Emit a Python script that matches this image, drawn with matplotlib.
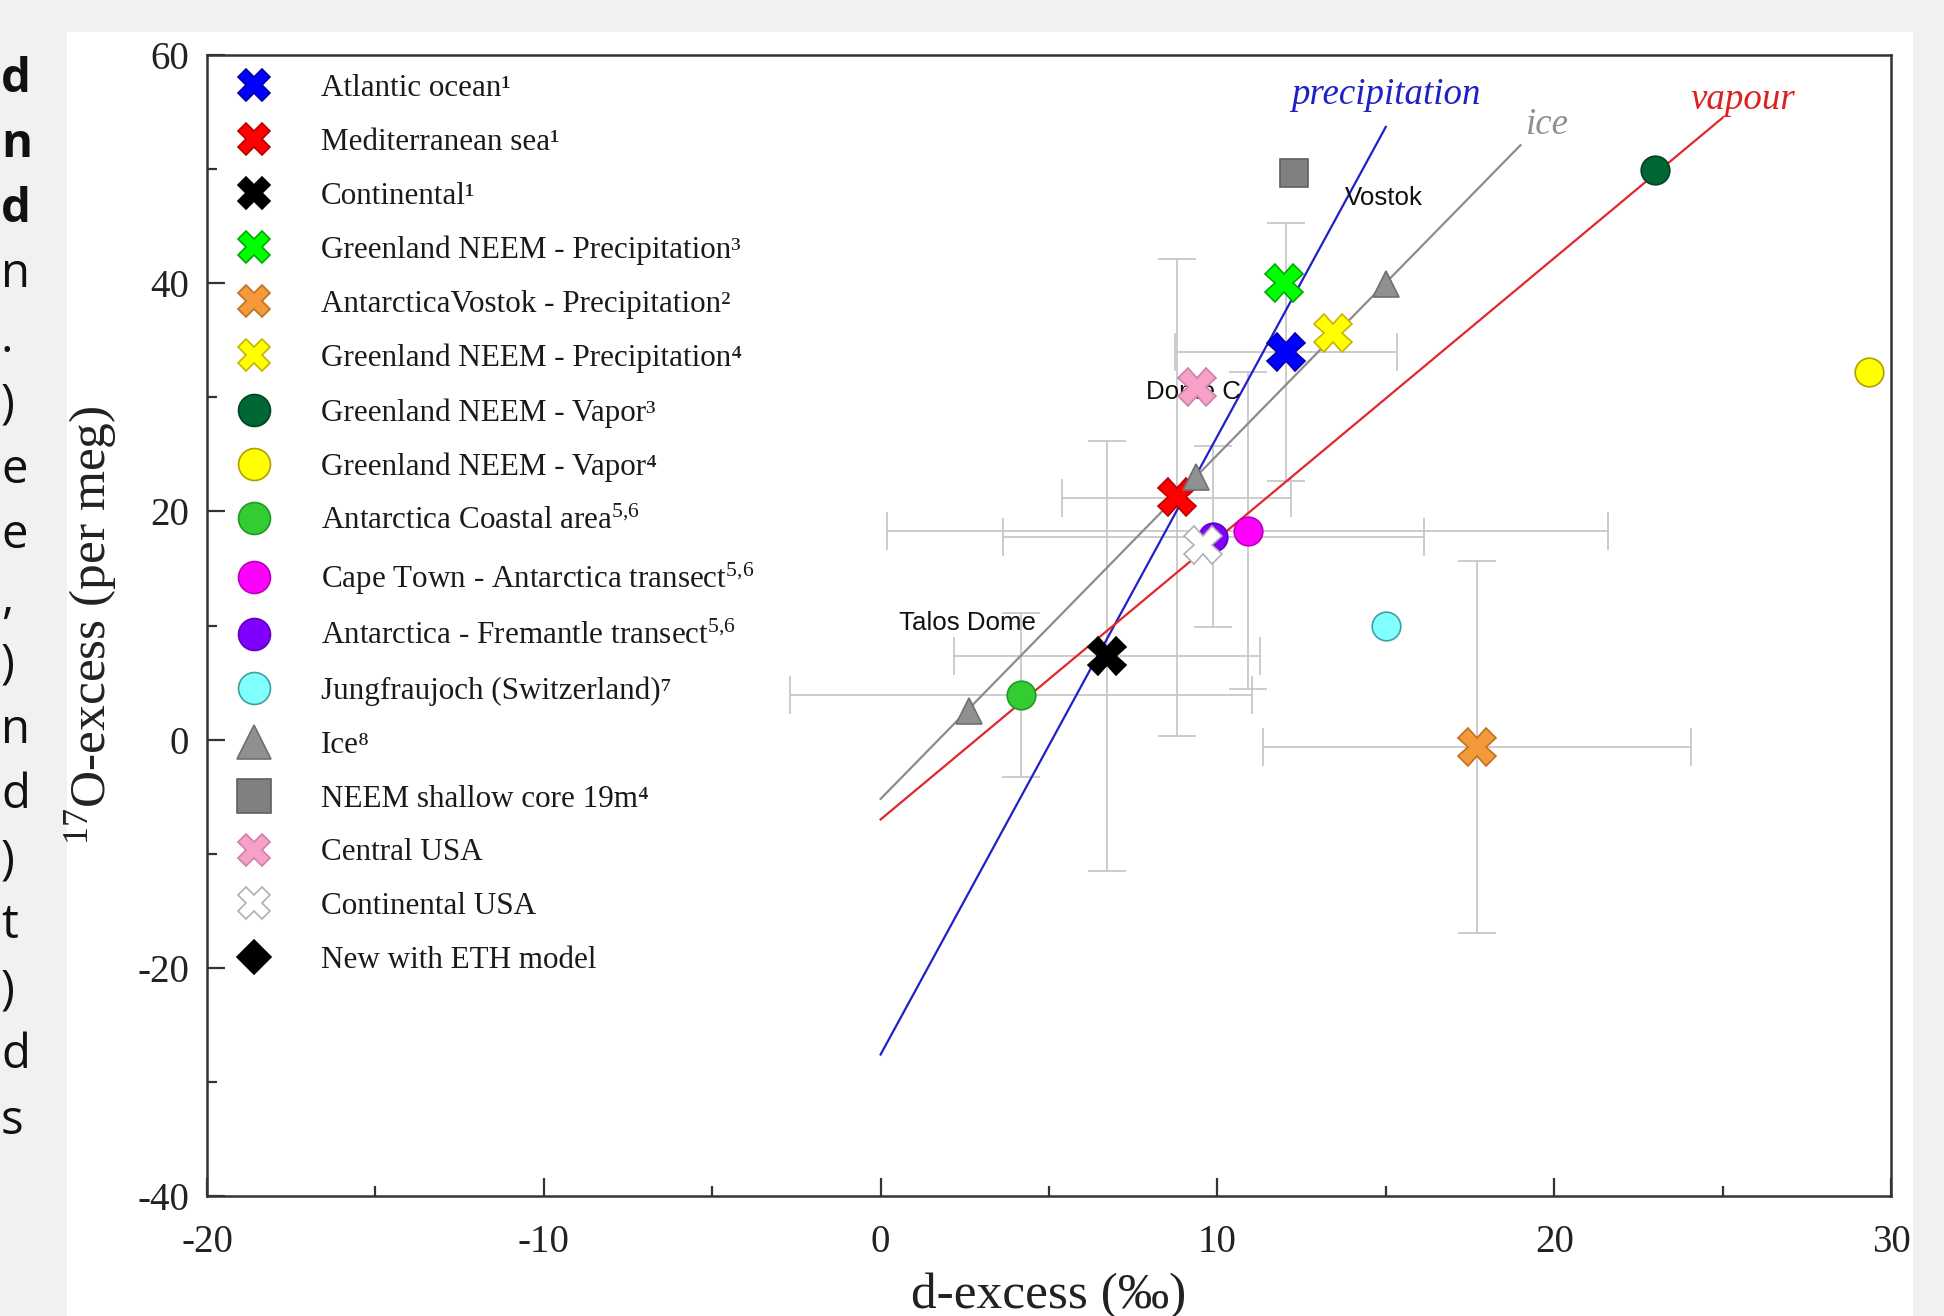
import matplotlib
matplotlib.use("Agg")
import matplotlib.pyplot as plt
from matplotlib.lines import Line2D
from matplotlib.patches import Rectangle
from matplotlib.ticker import MultipleLocator

plt.rcParams['font.family'] = ['Liberation Serif', 'DejaVu Serif']
plt.rcParams['mathtext.fontset'] = 'custom'
plt.rcParams['mathtext.rm'] = 'Liberation Serif'
plt.rcParams['mathtext.it'] = 'Liberation Serif:italic'
plt.rcParams['mathtext.default'] = 'regular'
plt.rcParams['axes.unicode_minus'] = False

# ---------------- data ----------------
series_labels = [
    "Atlantic ocean\u00b9",
    "Mediterranean sea\u00b9",
    "Continental\u00b9",
    "Greenland NEEM - Precipitation\u00b3",
    "AntarcticaVostok - Precipitation\u00b2",
    "Greenland NEEM - Precipitation\u2074",
    "Greenland NEEM - Vapor\u00b3",
    "Greenland NEEM - Vapor\u2074",
    "Antarctica Coastal area$^{5{,}6}$",
    "Cape Town - Antarctica transect$^{5{,}6}$",
    "Antarctica - Fremantle transect$^{5{,}6}$",
    "Jungfraujoch (Switzerland)\u2077",
    "Ice\u2078",
    "NEEM shallow core 19m\u2074",
    "Central USA",
    "Continental USA",
    "New with ETH model",
]
series_x = [
    [12.04], [8.8], [6.72], [11.98], [17.7], [13.43], [23.0], [29.35],
    [4.17], [10.9], [9.88], [15.0], [2.63, 9.35, 15.0], [12.27], [9.4],
    [9.56], [],
]
series_y = [
    [34.0], [21.3], [7.35], [40.0], [-0.65], [35.6], [49.9], [32.2],
    [3.9], [18.3], [17.8], [9.96], [2.55, 23.0, 39.9], [49.7], [30.9],
    [17.05], [],
]

# error bars (centre, half-width)
err_x = [12.04, 8.8, 6.72, 17.7, 4.17, 10.9, 9.88]
err_y = [34.0, 21.2, 7.35, -0.63, 3.9, 18.3, 17.8]
err_xhalf = [3.3, 3.4, 4.55, 6.35, 6.85, 10.7, 6.26]
err_yhalf = [11.3, 20.9, 18.85, 16.3, 7.2, 13.9, 7.9]

# regression lines (end points)
line_names = ["precipitation", "ice", "vapour"]
precip_x = [0.0, 15.0]
precip_y = [-27.6, 53.7]
ice_x = [0.0, 19.0]
ice_y = [-5.2, 52.1]
vapour_x = [0.0, 25.0]
vapour_y = [-7.0, 54.5]

site_names = ["Vostok", "Dome C", "Talos Dome"]
site_x = [13.8, 7.87, 0.55]
site_y = [47.5, 30.5, 10.2]

x_ticks = [-20, -10, 0, 10, 20, 30]
y_ticks = [-40, -20, 0, 20, 40, 60]

# ---------------- styles ----------------
markers = ['X', 'X', 'X', 'X', 'X', 'X', 'o', 'o', 'o', 'o', 'o', 'o',
           '^', 's', 'X', 'X', 'D']
face = ['#0000ff', '#ff0000', '#000000', '#00ff00', '#f59a3c', '#ffff00',
        '#006633', '#ffff00', '#33cc33', '#ff00ff', '#8000ff', '#80ffff',
        '#909090', '#808080', '#f7a1c9', '#ffffff', '#000000']
edge = ['#0000aa', '#bb0000', '#000000', '#00aa00', '#c07020', '#c8b400',
        '#004422', '#b0a000', '#229922', '#bb00bb', '#6000c0', '#40a0a0',
        '#707070', '#606060', '#d080a8', '#b0b0b0', '#000000']
plot_ms = {'X': 13.5, 'o': 10.3, '^': 9.5, 's': 10.0, 'D': 8.5}
leg_ms = {'X': 11.5, 'o': 11.5, '^': 12.0, 's': 12.0, 'D': 8.5}

W, H = 1944, 1316
fig = plt.figure(figsize=(W / 200, H / 200), dpi=200)
fig.patch.set_facecolor('#f1f1f1')
fig.patches.append(Rectangle((67 / W, 0), (1913 - 67) / W, (H - 32) / H,
                             transform=fig.transFigure, facecolor='white',
                             edgecolor='none', zorder=-10))

# remnants of the neighbouring text column
strip_chars = ['d', 'n', 'd', 'n', '.', ')', 'e', 'e', ',', ')', 'n', 'd',
               ')', 't', ')', 'd', 's']
for k, ch in enumerate(strip_chars):
    fig.text(1 / W, 1 - (92 + 65.1 * k) / H, ch, ha='left', va='baseline',
             fontsize=17, family=['Open Sans', 'Noto Sans', 'DejaVu Sans'],
             fontweight='bold' if k < 3 else 'normal', color='#111111')

ax = fig.add_axes([207 / W, 1 - 1196 / H, (1891 - 207) / W, (1196 - 55) / H])
ax.set_xlim(-20, 30)
ax.set_ylim(-40, 60)

# error bars
ax.errorbar(err_x, err_y, xerr=err_xhalf, yerr=err_yhalf, fmt='none',
            ecolor='#c4c4c4', elinewidth=0.6, capsize=6.7, capthick=0.6,
            zorder=1)

# lines
ax.plot(precip_x, precip_y, color='#2020c8', lw=0.8, zorder=2)
ax.plot(ice_x, ice_y, color='#8c8c8c', lw=0.8, zorder=2)
ax.plot(vapour_x, vapour_y, color='#e02828', lw=0.8, zorder=2)

ax.text(15.0, 56.5, line_names[0], color='#2020c8', style='italic',
        fontsize=13.3, ha='center', va='center')
ax.text(19.8, 53.9, line_names[1], color='#909090', style='italic',
        fontsize=13.3, ha='center', va='center')
ax.text(25.6, 56.05, line_names[2], color='#dd2020', style='italic',
        fontsize=13.3, ha='center', va='center')

for name, sx, sy in zip(site_names, site_x, site_y):
    ax.text(sx, sy, name, fontsize=9.3, ha='left', va='center',
            family=['Liberation Sans', 'DejaVu Sans'], color='#111111',
            zorder=2.5)

# markers
for i in range(len(series_labels)):
    m = markers[i]
    ax.plot(series_x[i], series_y[i], linestyle='none', marker=m,
            ms=plot_ms[m], mfc=face[i], mec=edge[i], mew=0.6, zorder=3)

# legend
handles = [Line2D([], [], linestyle='none', marker=markers[i],
                  ms=leg_ms[markers[i]], mfc=face[i], mec=edge[i], mew=0.6)
           for i in range(len(series_labels))]
leg = ax.legend(handles, series_labels, loc='upper left',
                bbox_to_anchor=(0.0148, 0.9834), frameon=False, fontsize=11.2,
                handlelength=1.4, handletextpad=1.45, labelspacing=0.80,
                borderpad=0, borderaxespad=0)
for t in leg.get_texts():
    t.set_color('#1a1a1a')

# axes styling
for side in ['top', 'right', 'bottom', 'left']:
    ax.spines[side].set_color('#333333')
    ax.spines[side].set_linewidth(0.9)
ax.set_xticks(x_ticks)
ax.set_yticks(y_ticks)
ax.xaxis.set_minor_locator(MultipleLocator(5))
ax.yaxis.set_minor_locator(MultipleLocator(10))
ax.tick_params(which='both', direction='in', top=False, right=False,
               color='#333333', width=0.8)
ax.tick_params(which='major', length=6.5)
ax.tick_params(which='minor', length=3.6)
ax.tick_params(axis='y', which='major', pad=6.5, labelsize=14,
               labelcolor='#222222')
ax.tick_params(axis='x', which='major', pad=10, labelsize=14,
               labelcolor='#222222')

ax.set_xlabel("d-excess (\u2030)", fontsize=18.5, color='#222222')
ax.set_ylabel("$^{17}$O-excess (per meg)", fontsize=18.5, color='#222222')
ax.xaxis.set_label_coords(0.5, -0.0675)
ax.yaxis.set_label_coords(-0.052, 0.5)

fig.savefig("out.png", dpi=200, facecolor=fig.get_facecolor())
